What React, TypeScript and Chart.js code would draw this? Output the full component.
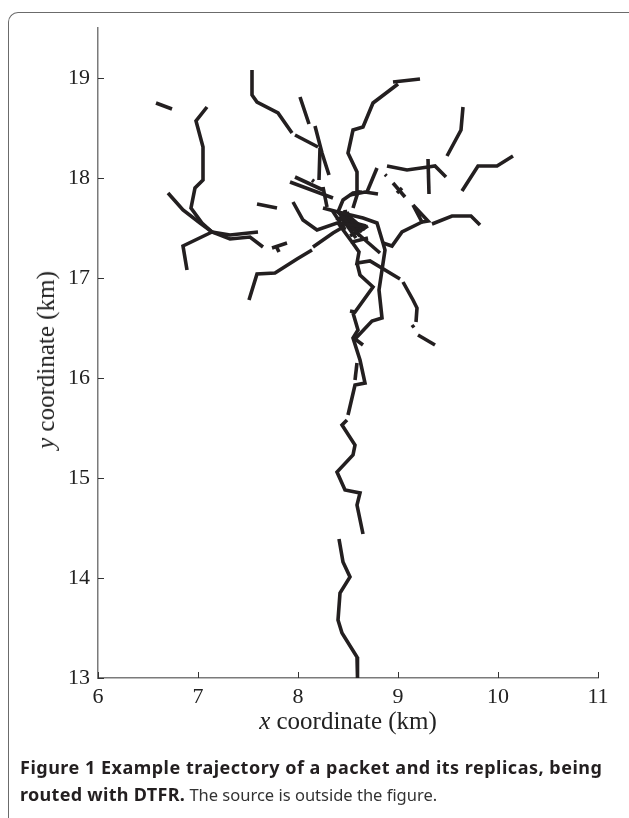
import React, { useEffect, useRef } from "react";
import { Chart, registerables } from "chart.js";

Chart.register(...registerables);

// axis ranges and tick labels
const xTicks = [6, 7, 8, 9, 10, 11];
const yTicks = [13, 14, 15, 16, 17, 18, 19];
const xRange = [6, 11];
const yRange = [13, 19.5];

// trajectory pieces (x km, y km)
const leftDash = [[6.58, 18.75], [6.74, 18.69]];
const leftBranch = [[7.09, 18.71], [6.98, 18.57], [7.05, 18.31], [7.05, 17.98], [6.97, 17.9], [6.93, 17.7], [7.04, 17.55], [7.14, 17.46], [7.32, 17.43], [7.6, 17.46]];
const leftLower = [[6.7, 17.85], [6.85, 17.68], [7.02, 17.55], [7.14, 17.46], [7.32, 17.39], [7.52, 17.41], [7.65, 17.31]];
const leftHook = [[7.14, 17.46], [6.85, 17.32], [6.89, 17.08]];
const leftDash2 = [[7.74, 17.3], [7.89, 17.35]];
const leftDash2b = [[7.78, 17.32], [7.81, 17.26]];
const lowerLeft = [[7.51, 16.78], [7.59, 17.04], [7.77, 17.05], [7.99, 17.19], [8.14, 17.28]];
const lowerLeftDash = [[8.15, 17.31], [8.35, 17.45], [8.47, 17.52]];
const midDash = [[7.59, 17.74], [7.79, 17.7]];
const topLeftA = [[7.54, 19.08], [7.54, 18.83], [7.59, 18.76], [7.8, 18.65], [7.94, 18.45]];
const topLeftB = [[7.97, 18.43], [8.2, 18.31]];
const topDash = [[8.02, 18.81], [8.11, 18.54]];
const topDiag = [[8.17, 18.52], [8.24, 18.25], [8.31, 18.03]];
const topVert = [[8.22, 18.3], [8.21, 17.98]];
const longDiag = [[7.92, 17.96], [8.35, 17.8]];
const shortDiag = [[7.97, 18.01], [8.25, 17.88]];
const tinyDot = [[8.14, 17.98], [8.16, 17.965]];
const shortVert = [[8.25, 17.91], [8.29, 17.71]];
const hubWest = [[7.95, 17.76], [8.05, 17.58], [8.19, 17.48], [8.39, 17.55], [8.69, 17.51]];
const hubEastTrunk = [[8.25, 17.7], [8.4, 17.66], [8.65, 17.6], [8.79, 17.55], [8.85, 17.35], [8.87, 17.28], [8.84, 17.08], [8.81, 16.88], [8.84, 16.6], [8.74, 16.57], [8.57, 16.39], [8.65, 16.33]];
const hubArc = [[8.4, 17.66], [8.45, 17.78], [8.55, 17.85], [8.64, 17.86]];
const northBranch = [[8.55, 17.7], [8.6, 17.86], [8.59, 18.06], [8.5, 18.25], [8.55, 18.48], [8.65, 18.51], [8.75, 18.75], [9.0, 18.94]];
const northTop = [[8.95, 18.96], [9.22, 18.99]];
const northEastDiag = [[8.79, 18.1], [8.69, 17.86]];
const northEastBar = [[8.52, 17.83], [8.67, 17.86], [8.8, 17.84]];
const eastBranch = [[8.89, 18.12], [9.09, 18.08], [9.3, 18.11], [9.37, 18.12], [9.48, 18.01]];
const eastVert = [[9.3, 18.19], [9.31, 17.84]];
const farNorthEast = [[9.65, 18.71], [9.63, 18.48], [9.49, 18.22]];
const farEast = [[9.64, 17.87], [9.8, 18.12], [9.99, 18.12], [10.15, 18.22]];
const eastLow = [[9.34, 17.54], [9.54, 17.62], [9.73, 17.62], [9.82, 17.53]];
const triangle = [[9.15, 17.73], [9.24, 17.56], [9.3, 17.57], [9.15, 17.73]];
const triangleTail = [[9.24, 17.56], [9.04, 17.46], [8.94, 17.32], [8.85, 17.35]];
const crossA = [[8.95, 17.95], [9.07, 17.81]];
const crossB = [[8.99, 17.85], [9.04, 17.9]];
const crossDot = [[8.87, 18.035], [8.885, 18.02]];
const hubSouthEast = [[8.59, 17.45], [8.82, 17.25]];
const hubSouth = [[8.4, 17.55], [8.54, 17.36], [8.7, 17.4]];
const southEast = [[8.54, 17.36], [8.61, 17.26], [8.59, 17.15], [8.72, 17.17], [9.02, 16.99]];
const southEastB = [[9.05, 16.96], [9.15, 16.78], [9.19, 16.7], [9.18, 16.56]];
const southEastDot = [[9.14, 16.53], [9.16, 16.505]];
const southEastDash = [[9.2, 16.43], [9.37, 16.33]];
const trunkA = [[8.59, 17.15], [8.62, 17.03], [8.75, 16.91], [8.57, 16.66], [8.52, 16.67]];
const trunkB = [[8.55, 16.65], [8.6, 16.48], [8.55, 16.4], [8.62, 16.18], [8.67, 15.95], [8.57, 15.93], [8.5, 15.63]];
const trunkDash = [[8.59, 16.15], [8.57, 15.98]];
const trunkC = [[8.49, 15.58], [8.44, 15.53], [8.57, 15.33], [8.55, 15.23], [8.39, 15.06], [8.47, 14.88], [8.62, 14.85], [8.59, 14.73], [8.65, 14.44]];
const trunkD = [[8.41, 14.39], [8.45, 14.16], [8.52, 14.01], [8.42, 13.85], [8.4, 13.58], [8.44, 13.45], [8.59, 13.21], [8.6, 13.21], [8.59, 13.0]];
const hubA = [[8.4, 17.66], [8.62, 17.42]];
const hubB = [[8.45, 17.67], [8.67, 17.48]];
const hubC = [[8.42, 17.62], [8.58, 17.4]];
const hubD = [[8.47, 17.68], [8.55, 17.43]];
const hubE = [[8.38, 17.6], [8.68, 17.52]];
const hubF = [[8.34, 17.68], [8.47, 17.48]];
const hubG = [[8.52, 17.42], [8.7, 17.52]];
const hubH = [[8.43, 17.64], [8.64, 17.46]];
const hubI = [[8.49, 17.66], [8.6, 17.44]];
const hubJ = [[8.44, 17.6], [8.66, 17.5]];

const segments = [
  leftDash, leftBranch, leftLower, leftHook, leftDash2, leftDash2b, lowerLeft, lowerLeftDash,
  midDash, topLeftA, topLeftB, topDash, topDiag, topVert, longDiag, shortDiag, tinyDot, shortVert,
  hubWest, hubEastTrunk, hubArc, northBranch, northTop, northEastDiag, northEastBar, eastBranch,
  eastVert, farNorthEast, farEast, eastLow, triangle, triangleTail, crossA, crossB, crossDot,
  hubSouthEast, hubSouth, southEast, southEastB, southEastDot, southEastDash, trunkA, trunkB,
  trunkDash, trunkC, trunkD, hubA, hubB, hubC, hubD, hubE, hubF, hubG, hubH, hubI, hubJ,
];

const LINE = "#231f20";
const TICK_FONT = { family: "'Liberation Serif', 'DejaVu Serif', serif", size: 22 };

const inwardTicks = {
  id: "inwardTicks",
  afterDatasetsDraw(chart: any) {
    const { ctx, chartArea, scales } = chart;
    ctx.save();
    ctx.strokeStyle = "#333";
    ctx.lineWidth = 1;
    ctx.beginPath();
    for (const v of xTicks) {
      const px = Math.round(scales.x.getPixelForValue(v)) + 0.5;
      ctx.moveTo(px, chartArea.bottom);
      ctx.lineTo(px, chartArea.bottom - 6);
    }
    for (const v of yTicks) {
      const py = Math.round(scales.y.getPixelForValue(v)) + 0.5;
      ctx.moveTo(chartArea.left, py);
      ctx.lineTo(chartArea.left + 6, py);
    }
    ctx.stroke();
    ctx.restore();
  },
};

export default function App() {
  const ref = useRef<HTMLCanvasElement | null>(null);

  useEffect(() => {
    if (!ref.current) return;
    const chart = new Chart(ref.current, {
      type: "scatter",
      data: {
        datasets: segments.map((seg) => ({
          data: seg.map(([x, y]) => ({ x, y })),
          showLine: true,
          borderColor: LINE,
          backgroundColor: LINE,
          borderWidth: 3.6,
          pointRadius: 0,
          pointHoverRadius: 0,
          fill: false,
          tension: 0,
          borderCapStyle: "butt",
          borderJoinStyle: "miter",
        })),
      },
      options: {
        responsive: false,
        animation: false,
        devicePixelRatio: 1,
        layout: { padding: { left: 0, right: 31, top: 28, bottom: 0 } },
        plugins: { legend: { display: false }, tooltip: { enabled: false } },
        events: [],
        scales: {
          x: {
            type: "linear",
            min: xRange[0],
            max: xRange[1],
            afterBuildTicks: (s: any) => {
              s.ticks = xTicks.map((v) => ({ value: v }));
            },
            afterFit: (s: any) => {
              s.height = 140;
            },
            ticks: { font: TICK_FONT, color: "#222", padding: 6, maxRotation: 0 },
            grid: { display: false, drawTicks: false },
            border: { display: true, color: "#7a7a7a", width: 1.5 },
          },
          y: {
            type: "linear",
            min: yRange[0],
            max: yRange[1],
            afterBuildTicks: (s: any) => {
              s.ticks = yTicks.map((v) => ({ value: v }));
            },
            afterFit: (s: any) => {
              s.width = 98;
            },
            ticks: { font: TICK_FONT, color: "#222", padding: 8 },
            grid: { display: false, drawTicks: false },
            border: { display: true, color: "#7a7a7a", width: 1.5 },
          },
        },
      },
      plugins: [inwardTicks],
    } as any);
    return () => chart.destroy();
  }, []);

  const serif = "'Liberation Serif', 'DejaVu Serif', serif";
  const sans = "'Noto Sans', 'Open Sans', sans-serif";

  return (
    <div style={{ position: "fixed", left: 0, top: 0, width: 629, height: 818, overflow: "hidden", background: "#fff" }}>
      <div
        style={{
          position: "absolute",
          left: 8,
          top: 12,
          width: 720,
          height: 900,
          borderLeft: "1.5px solid #6b6b6b",
          borderTop: "1.5px solid #6b6b6b",
          borderTopLeftRadius: 10,
          boxSizing: "border-box",
        }}
      />
      <canvas ref={ref} width={629} height={818} style={{ position: "absolute", left: 0, top: 0, width: 629, height: 818 }} />
      <div
        style={{
          position: "absolute",
          left: 98,
          width: 500,
          top: 706,
          textAlign: "center",
          fontFamily: serif,
          fontSize: 25,
          lineHeight: "30px",
          color: "#222",
          whiteSpace: "nowrap",
        }}
      >
        <i>x</i> coordinate (km)
      </div>
      <div
        style={{
          position: "absolute",
          left: 46,
          top: 360,
          transform: "translate(-50%, -50%) rotate(-90deg)",
          fontFamily: serif,
          fontSize: 25,
          lineHeight: "30px",
          color: "#222",
          whiteSpace: "nowrap",
        }}
      >
        <i>y</i> coordinate (km)
      </div>
      <div
        style={{
          position: "absolute",
          left: 20,
          top: 754,
          fontFamily: sans,
          lineHeight: "27px",
          color: "#231f20",
          whiteSpace: "nowrap",
        }}
      >
        <div style={{ fontWeight: 700, fontSize: 18, letterSpacing: "0.5px" }}>
          Figure 1 Example trajectory of a packet and its replicas, being
        </div>
        <div>
          <span style={{ fontWeight: 700, fontSize: 18, letterSpacing: "0.3px" }}>routed with DTFR.</span>
          <span style={{ fontWeight: 400, fontSize: 16.5, color: "#333" }}> The source is outside the figure.</span>
        </div>
      </div>
    </div>
  );
}
